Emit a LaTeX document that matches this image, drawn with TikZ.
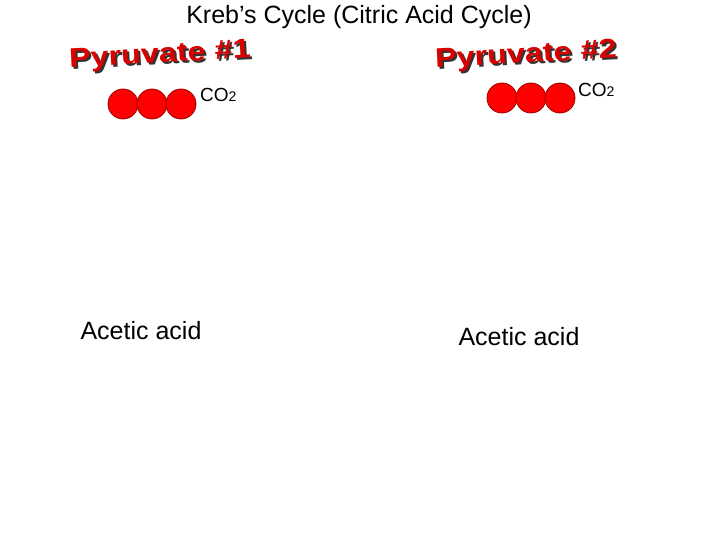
\documentclass[tikz,border=0pt]{standalone}
\usepackage{fontspec}
\setmainfont{Liberation Sans}
\usepackage{tikz}

\begin{document}
\begin{tikzpicture}[x=1pt,y=-1pt]
    
    \useasboundingbox[fill=white] (0,0) rectangle (720,540);

    \tikzset{
        carbon/.style={fill=red, draw=red!60!black, line width=0.8pt},
        word/.style={font=\fontsize{27}{27}\selectfont\bfseries, text=red!85!black, inner sep=0pt},
        shade/.style={font=\fontsize{27}{27}\selectfont\bfseries, text=black!80, inner sep=0pt},
        label/.style={font=\fontsize{25}{28}\selectfont, inner sep=0pt}
    }

    
    \node[font=\fontsize{25}{28}\selectfont, inner sep=0pt] (title) at (359,17) {Kreb's Cycle (Citric Acid Cycle)};

    
    \foreach \n/\x/\y/\r in {1/160/56/3, 2/526/56/3} {
        \node[shade, rotate=\r, xscale=1.2] at (\x+2,\y+2) {Pyruvate \#\n};
        \node[word, rotate=\r, xscale=1.2] (pyr\n) at (\x,\y) {Pyruvate \#\n};
    }

    
    \foreach \x in {123,152,181} {
        \draw[carbon] (\x,104) circle (15);
    }
    \node[font=\fontsize{19}{21}\selectfont, anchor=west, inner sep=0pt] (coa) at (200,95) {CO\fontsize{14}{14}\selectfont 2};

    \foreach \x in {502,531,560} {
        \draw[carbon] (\x,98) circle (15);
    }
    \node[font=\fontsize{19}{21}\selectfont, anchor=west, inner sep=0pt] (cob) at (578,90) {CO\fontsize{14}{14}\selectfont 2};

    
    \node[label] (aca) at (141,331) {Acetic acid};
    \node[label] (acb) at (519,337) {Acetic acid};

\end{tikzpicture}
\end{document}
